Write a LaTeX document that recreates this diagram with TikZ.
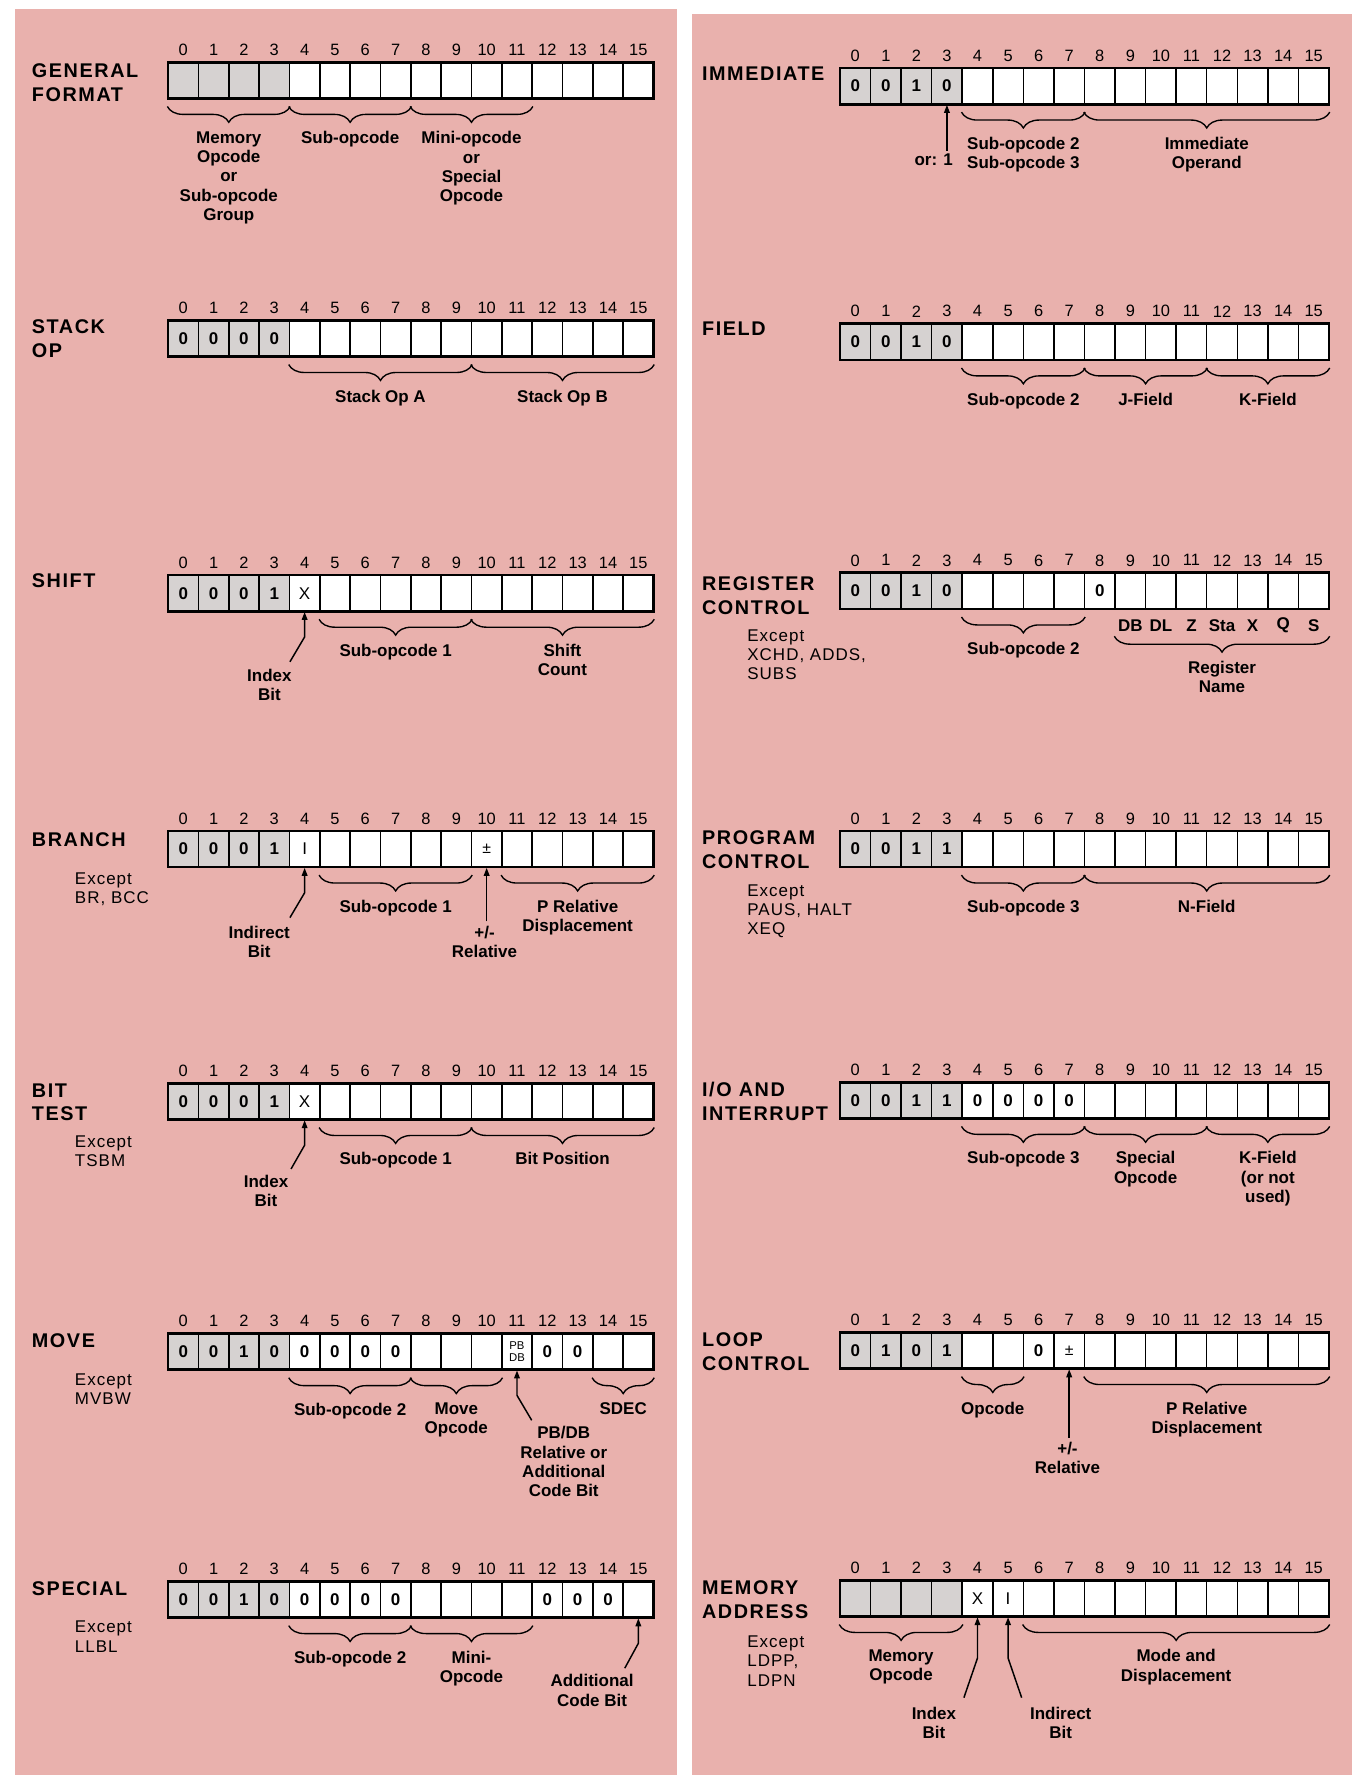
\documentclass[tikz,border=0pt]{standalone}
\usepackage{fontspec}
\setmainfont{Liberation Sans}
\newfontfamily\titlef[LetterSpace=8]{Liberation Sans}
\newfontfamily\excf[LetterSpace=6]{Liberation Sans}
\usetikzlibrary{decorations.pathreplacing,arrows.meta,calc}
\definecolor{pinkbg}{HTML}{E9B1AD}
\definecolor{cellgray}{HTML}{D6D2D1}
\newcommand\EC{}
\newcommand\cX{{\mdseries X}}
\newcommand\cI{{\mdseries I}}
\newcommand\cPM{{\mdseries\fontsize{14}{14}\selectfont ±}}
\newcommand\cPB{{\mdseries\fontsize{10}{10}\selectfont\shortstack{PB\\DB}}}
\def\xL{148.5}\def\wL{26.8}\def\xR{742}\def\wR{27}
% register row: #1 prefix, #2 x-left, #3 top, #4 cell width, #5 16 contents
\newcommand\regrow[5]{%
  \foreach \c [count=\i from 0] in {#5} {%
    \ifnum\i<4 \def\cf{cellgray}\else\def\cf{white}\fi
    \node[cell,fill=\cf,minimum width=#4pt] (#1\i) at ({#2+(\i+0.5)*#4},{#3+16}) {\c};
    \node[bitnum] (#1n\i) at ({#2+(\i+0.5)*#4},{#3-11}) {\i};
  }
  \draw[line width=2.4pt] (#2,#3) rectangle ({#2+16*#4},{#3+32});
}
% brace group: #1 prefix, #2 first, #3 last, #4 offset, #5 label name, #6 text
\newcommand\grp[6]{%
  \draw[brc] ([yshift=-#4pt]#1#2.south west) -- ([yshift=-#4pt]#1#3.south east);
  \node[lab] (#5) at ($(#1#2.south west)!0.5!(#1#3.south east)+(0,#4+22)$) {#6};
}
% bent arrow: #1 cell, #2 coordinate name, #3 dx, #4 dy (down), #5 bend dy
\newcommand\barrow[5]{%
  \coordinate (#2) at ([xshift=#3pt,yshift=-#4pt]#1.south);
  \draw[arr] (#2) -- ([yshift=-#5pt]#1.south) -- (#1.south);
}
\begin{document}
\begin{tikzpicture}[x=1pt,y=-1pt,
  cell/.style={draw=black,line width=1.3pt,minimum height=32pt,inner sep=0pt,font=\bfseries\fontsize{15}{15}\selectfont},
  bitnum/.style={inner sep=0pt,font=\fontsize{14.5}{14.5}\selectfont},
  lab/.style={anchor=north,align=center,inner sep=0pt,font=\bfseries\fontsize{15}{17}\selectfont},
  ttl/.style={anchor=north west,align=left,inner sep=0pt,font=\titlef\bfseries\fontsize{17.5}{21}\selectfont},
  exc/.style={anchor=north west,align=left,inner sep=0pt,font=\excf\fontsize{15}{17}\selectfont},
  brc/.style={decorate,decoration={brace,mirror,amplitude=14pt},line width=1.2pt},
  arr/.style={line width=1.3pt,-{Triangle[length=7pt,width=5pt]}}]
\useasboundingbox (0,0) rectangle (1198,1568);
\fill[white] (0,0) rectangle (1198,1568);
\fill[pinkbg] (13,8) rectangle (598,1568);
\fill[pinkbg] (611,12) rectangle (1194,1568);

% ===== LEFT PANEL =====
% GENERAL FORMAT
\node[ttl] (gfT) at (28,56) {GENERAL\\FORMAT};
\regrow{gf}{\xL}{55}{\wL}{\EC,\EC,\EC,\EC,\EC,\EC,\EC,\EC,\EC,\EC,\EC,\EC,\EC,\EC,\EC,\EC}
\grp{gf}{0}{3}{6.4}{gfL1}{Memory\\Opcode\\or\\Sub-opcode\\Group}
\grp{gf}{4}{7}{6.4}{gfL2}{Sub-opcode}
\grp{gf}{8}{11}{6.4}{gfL3}{Mini-opcode\\or\\Special\\Opcode}

% STACK OP
\node[ttl] (soT) at (28,282) {STACK\\OP};
\regrow{so}{\xL}{283}{\wL}{0,0,0,0,\EC,\EC,\EC,\EC,\EC,\EC,\EC,\EC,\EC,\EC,\EC,\EC}
\grp{so}{4}{9}{6.4}{soL1}{Stack Op A}
\grp{so}{10}{15}{6.4}{soL2}{Stack Op B}

% SHIFT
\node[ttl] (shT) at (28,507) {SHIFT};
\regrow{sh}{\xL}{508}{\wL}{0,0,0,1,\cX,\EC,\EC,\EC,\EC,\EC,\EC,\EC,\EC,\EC,\EC,\EC}
\grp{sh}{5}{9}{6.4}{shL1}{Sub-opcode 1}
\grp{sh}{10}{15}{6.4}{shL2}{Shift\\Count}
\node[lab] (shIB) at (238,591) {Index\\Bit};
\barrow{sh4}{shA}{-13}{44}{22}

% BRANCH
\node[ttl] (brT) at (28,735) {BRANCH};
\node[exc] (brE) at (66,771) {Except\\BR, BCC};
\regrow{br}{\xL}{734}{\wL}{0,0,0,1,\cI,\EC,\EC,\EC,\EC,\EC,\cPM,\EC,\EC,\EC,\EC,\EC}
\grp{br}{5}{9}{6.4}{brL1}{Sub-opcode 1}
\grp{br}{11}{15}{6.4}{brL2}{P Relative\\Displacement}
\node[lab] (brIB) at (229,818) {Indirect\\Bit};
\barrow{br4}{brA}{-13}{44}{22}
\node[lab] (brRel) at (428,818) {+/-\\Relative};
\draw[arr,shorten <=4pt] (br10.south |- brRel.north) -- (br10.south);

% BIT TEST
\node[ttl] (btT) at (28,957) {BIT\\TEST};
\node[exc] (btE) at (66,1003) {Except\\TSBM};
\regrow{bt}{\xL}{957}{\wL}{0,0,0,1,\cX,\EC,\EC,\EC,\EC,\EC,\EC,\EC,\EC,\EC,\EC,\EC}
\grp{bt}{5}{9}{6.4}{btL1}{Sub-opcode 1}
\grp{bt}{10}{15}{6.4}{btL2}{Bit Position}
\node[lab] (btIB) at (235,1038) {Index\\Bit};
\barrow{bt4}{btA}{-12}{43}{22}

% MOVE
\node[ttl] (mvT) at (28,1178) {MOVE};
\node[exc] (mvE) at (66,1213) {Except\\MVBW};
\regrow{mv}{\xL}{1178}{\wL}{0,0,1,0,0,0,0,0,\EC,\EC,\EC,\cPB,0,0,\EC,\EC}
\grp{mv}{4}{7}{6.4}{mvL1}{Sub-opcode 2}
\grp{mv}{8}{10}{6.4}{mvL2}{Move\\Opcode}
\grp{mv}{14}{15}{6.4}{mvL3}{SDEC}
\node[lab] (mvPB) at (498,1260) {PB/DB\\Relative or\\Additional\\Code Bit};
\barrow{mv11}{mvA}{13}{44}{22}

% SPECIAL
\node[ttl] (spT) at (28,1397) {SPECIAL};
\node[exc] (spE) at (66,1432) {Except\\LLBL};
\regrow{sp}{\xL}{1397}{\wL}{0,0,1,0,0,0,0,0,\EC,\EC,\EC,\EC,0,0,0,\EC}
\grp{sp}{4}{7}{6.4}{spL1}{Sub-opcode 2}
\grp{sp}{8}{11}{6.4}{spL2}{Mini-\\Opcode}
\node[lab] (spAC) at (523,1479) {Additional\\Code Bit};
\barrow{sp15}{spA}{-12}{44}{22}

% ===== RIGHT PANEL =====
% IMMEDIATE
\node[ttl] (imT) at (620,59) {IMMEDIATE};
\regrow{im}{\xR}{60}{\wR}{0,0,1,0,\EC,\EC,\EC,\EC,\EC,\EC,\EC,\EC,\EC,\EC,\EC,\EC}
\grp{im}{4}{7}{6.4}{imL1}{Sub-opcode 2\\Sub-opcode 3}
\grp{im}{8}{15}{6.4}{imL2}{Immediate\\Operand}
\node[lab,anchor=north east] (imOr) at (842,136) {or: 1};
\draw[arr,shorten <=3pt] (im3.south |- imOr.north) -- (im3.south);

% FIELD
\node[ttl] (fdT) at (620,284) {FIELD};
\regrow{fd}{\xR}{286}{\wR}{0,0,1,0,\EC,\EC,\EC,\EC,\EC,\EC,\EC,\EC,\EC,\EC,\EC,\EC}
\grp{fd}{4}{7}{6.4}{fdL1}{Sub-opcode 2}
\grp{fd}{8}{11}{6.4}{fdL2}{J-Field}
\grp{fd}{12}{15}{6.4}{fdL3}{K-Field}

% REGISTER CONTROL
\node[ttl] (rcT) at (620,509) {REGISTER\\CONTROL};
\node[exc] (rcE) at (660,556) {Except\\XCHD, ADDS,\\SUBS};
\regrow{rc}{\xR}{506}{\wR}{0,0,1,0,\EC,\EC,\EC,\EC,0,\EC,\EC,\EC,\EC,\EC,\EC,\EC}
\grp{rc}{4}{7}{6.4}{rcL1}{Sub-opcode 2}
\foreach \n/\t in {9/DB,10/DL,11/Z,12/Sta,13/X,14/Q,15/S}
  \node[inner sep=0pt,font=\bfseries\fontsize{15}{15}\selectfont] (rcR\n) at ([yshift=-14pt]rc\n.south) {\t};
\grp{rc}{9}{15}{23.4}{rcL2}{Register\\Name}

% PROGRAM CONTROL
\node[ttl] (pcT) at (620,734) {PROGRAM\\CONTROL};
\node[exc] (pcE) at (660,781) {Except\\PAUS, HALT\\XEQ};
\regrow{pc}{\xR}{734}{\wR}{0,0,1,1,\EC,\EC,\EC,\EC,\EC,\EC,\EC,\EC,\EC,\EC,\EC,\EC}
\grp{pc}{4}{7}{6.4}{pcL1}{Sub-opcode 3}
\grp{pc}{8}{15}{6.4}{pcL2}{N-Field}

% I/O AND INTERRUPT
\node[ttl] (ioT) at (620,956) {I/O AND\\INTERRUPT};
\regrow{io}{\xR}{956}{\wR}{0,0,1,1,0,0,0,0,\EC,\EC,\EC,\EC,\EC,\EC,\EC,\EC}
\grp{io}{4}{7}{6.4}{ioL1}{Sub-opcode 3}
\grp{io}{8}{11}{6.4}{ioL2}{Special\\Opcode}
\grp{io}{12}{15}{6.4}{ioL3}{K-Field\\(or not\\used)}

% LOOP CONTROL
\node[ttl] (lcT) at (620,1177) {LOOP\\CONTROL};
\regrow{lc}{\xR}{1177}{\wR}{0,1,0,1,\EC,\EC,0,\cPM,\EC,\EC,\EC,\EC,\EC,\EC,\EC,\EC}
\grp{lc}{4}{5}{6.4}{lcL1}{Opcode}
\grp{lc}{8}{15}{6.4}{lcL2}{P Relative\\Displacement}
\node[lab] (lcRel) at (943,1274) {+/-\\Relative};
\draw[arr,shorten <=4pt] (lc7.south |- lcRel.north) -- (lc7.south);

% MEMORY ADDRESS
\node[ttl] (maT) at (620,1396) {MEMORY\\ADDRESS};
\node[exc] (maE) at (660,1445) {Except\\LDPP,\\LDPN};
\regrow{ma}{\xR}{1396}{\wR}{\EC,\EC,\EC,\EC,\cX,\cI,\EC,\EC,\EC,\EC,\EC,\EC,\EC,\EC,\EC,\EC}
\grp{ma}{0}{3}{6.4}{maL1}{Memory\\Opcode}
\grp{ma}{6}{15}{6.4}{maL2}{Mode and\\Displacement}
\node[lab] (maIB) at (825,1508) {Index\\Bit};
\barrow{ma4}{maA}{-12}{71}{36}
\node[lab] (maDB) at (937,1508) {Indirect\\Bit};
\barrow{ma5}{maB}{12}{71}{36}
\end{tikzpicture}
\end{document}
